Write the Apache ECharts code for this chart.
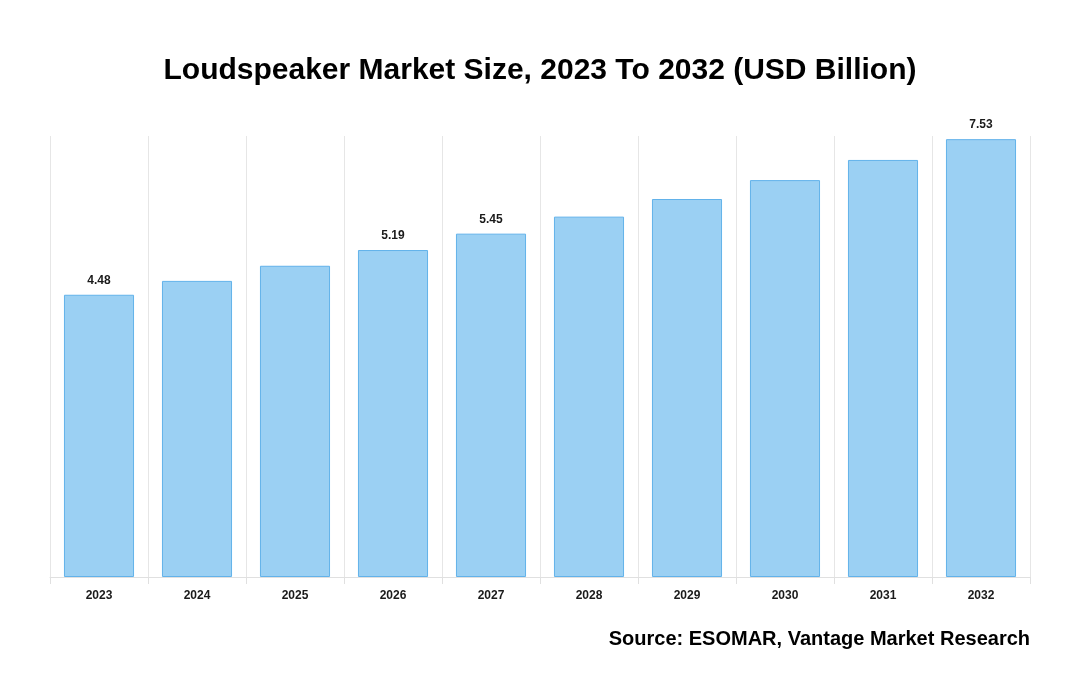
<!DOCTYPE html>
<html>
<head>
<meta charset="utf-8">
<script src="https://cdn.jsdelivr.net/npm/echarts@6/dist/echarts.min.js"></script>
<style>
html,body{margin:0;padding:0;background:#fff;}
#chart{width:1080px;height:700px;}
</style>
</head>
<body>
<div id="chart"></div>
<script>
var categories = ['2023','2024','2025','2026','2027','2028','2029','2030','2031','2032'];
// bar heights (USD Billion)
var values = [4.48, 4.70, 4.94, 5.19, 5.45, 5.72, 6.00, 6.30, 6.62, 6.95];
// value labels shown above selected bars, as printed on the reference
var labelTexts = ['4.48', '', '', '5.19', '5.45', '', '', '', '', '7.53'];
var titleText = 'Loudspeaker Market Size, 2023 To 2032 (USD Billion)';
var sourceText = 'Source: ESOMAR, Vantage Market Research';

var chart = echarts.init(document.getElementById('chart'), null, {renderer: 'canvas'});
chart.setOption({
  animation: false,
  backgroundColor: '#ffffff',
  title: [{
    text: titleText,
    left: 'center',
    top: 51,
    textStyle: {fontFamily: 'Liberation Sans', fontWeight: 'bold', fontSize: 30, color: '#000'}
  }, {
    text: sourceText,
    right: 45,
    top: 624,
    textStyle: {fontFamily: 'Liberation Sans', fontWeight: 'bold', fontSize: 20, color: '#000'}
  }],
  grid: {left: 50, right: 50, top: 136, bottom: 123, containLabel: false},
  xAxis: {
    type: 'category',
    data: categories,
    axisLine: {show: true, lineStyle: {color: '#e0e0e0', width: 1}},
    axisTick: {show: true, length: 7, lineStyle: {color: '#e0e0e0'}},
    axisLabel: {fontFamily: 'Liberation Sans', fontWeight: 'bold', fontSize: 12, color: '#1a1a1a', margin: 13},
    splitLine: {show: true, lineStyle: {color: '#e6e6e6', width: 1}}
  },
  yAxis: {
    type: 'value',
    min: 0,
    max: 7,
    show: false,
    splitLine: {show: false}
  },
  series: [{
    type: 'bar',
    data: values,
    barCategoryGap: '28.5%',
    itemStyle: {color: '#9bd0f3', borderColor: '#62b2ea', borderWidth: 1},
    label: {
      show: true,
      position: 'top',
      distance: 8,
      fontFamily: 'Liberation Sans',
      fontWeight: 'bold',
      fontSize: 12,
      color: '#1a1a1a',
      formatter: function (p) { return labelTexts[p.dataIndex]; }
    }
  }]
});
</script>
</body>
</html>
